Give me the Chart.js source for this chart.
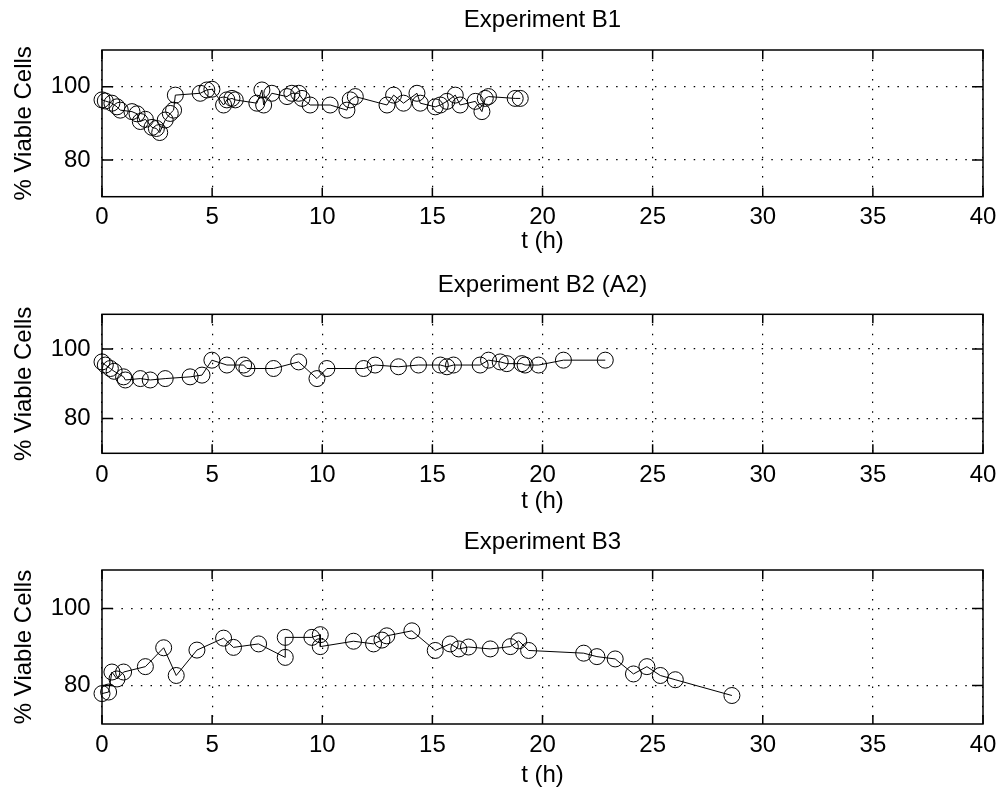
<!DOCTYPE html>
<html lang="en">
<head>
<meta charset="UTF-8">
<title>% Viable Cells - Experiments B1, B2, B3</title>
<script src="https://cdn.jsdelivr.net/npm/chart.js@4"></script>
<style>
  body { margin: 0; background: #fff; }
  #wrap { position: relative; width: 998px; height: 798px; }
  canvas { position: absolute; left: 0; }
</style>
</head>
<body>
<div id="wrap">
  <canvas id="c1" width="998" height="262" style="top:0px"></canvas>
  <canvas id="c2" width="998" height="262" style="top:262px"></canvas>
  <canvas id="c3" width="998" height="274" style="top:524px"></canvas>
</div>
<script>
// data
const titles = ['Experiment B1', 'Experiment B2 (A2)', 'Experiment B3'];
const xLabel = 't (h)';
const yLabel = '% Viable Cells';
const xTicks = [0, 5, 10, 15, 20, 25, 30, 35, 40];
const yTicks = [80, 100];

const b1Time = [0.0, 0.15, 0.45, 0.68, 0.83, 1.36, 1.59, 1.74, 1.97, 2.27, 2.47, 2.62, 2.87, 3.1, 3.25, 3.33,
  4.46, 4.76, 4.99, 5.52, 5.67, 5.9, 6.05, 7.03, 7.26, 7.34, 7.71, 8.4, 8.62, 8.93, 9.08, 9.45, 10.36,
  11.12, 11.27, 11.5, 12.94, 13.24, 13.69, 14.3, 14.45, 15.13, 15.36, 15.66, 16.04, 16.26, 16.95,
  17.25, 17.4, 17.55, 18.76, 18.99];
const b1Viable = [96.4, 96.1, 95.5, 94.5, 93.6, 93.2, 92.6, 90.5, 91.1, 88.9, 88.6, 87.5, 90.9, 92.7, 93.6, 97.7,
  98.2, 99.1, 99.3, 95.0, 96.4, 96.8, 96.4, 95.5, 99.1, 95.0, 98.2, 97.3, 98.2, 98.2, 96.8, 95.0, 95.0,
  93.6, 96.4, 97.3, 95.0, 97.7, 95.5, 98.2, 95.5, 94.5, 95.0, 96.0, 97.7, 95.0, 96.0,
  93.2, 96.8, 97.3, 96.8, 96.8];

const b2Time = [0.0, 0.15, 0.38, 0.55, 0.98, 1.06, 1.74, 2.19, 2.87, 4.0, 4.54, 4.99, 5.67, 6.43, 6.58, 7.79,
  8.93, 9.76, 10.21, 11.88, 12.4, 13.46, 14.37, 15.36, 15.66, 15.96, 17.17, 17.55, 18.08, 18.38,
  19.06, 19.21, 19.82, 20.95, 22.85];
const b2Viable = [96.3, 95.4, 94.4, 93.6, 92.0, 91.1, 91.5, 91.1, 91.5, 92.0, 92.5, 96.8, 95.4, 95.4, 94.4, 94.4,
  96.3, 91.5, 94.4, 94.4, 95.4, 94.9, 95.4, 95.4, 94.9, 95.4, 95.4, 96.8, 96.3, 95.8,
  95.8, 95.4, 95.4, 96.8, 96.8];

const b3Time = [0.0, 0.3, 0.45, 0.68, 0.98, 1.97, 2.8, 3.37, 4.31, 5.52, 5.97, 7.11, 8.32, 8.32, 9.53, 9.91, 9.91,
  11.42, 12.33, 12.71, 12.93, 14.07, 15.13, 15.81, 16.2, 16.64, 17.63, 18.54, 18.92, 19.37,
  21.87, 22.47, 23.3, 24.13, 24.74, 25.35, 26.03, 28.6];
const b3Viable = [77.9, 78.3, 83.5, 81.7, 83.5, 84.9, 89.8, 82.6, 89.2, 92.3, 89.9, 90.8, 87.3, 92.5, 92.5, 93.2, 90.1,
  91.5, 90.8, 91.8, 92.9, 94.2, 89.1, 90.8, 89.5, 90.0, 89.5, 90.1, 91.6, 89.1,
  88.4, 87.5, 86.9, 83.0, 84.9, 82.6, 81.5, 77.4];

Chart.defaults.font.family = "'Liberation Sans', Arial, sans-serif";
Chart.defaults.font.size = 24;
Chart.defaults.color = '#000';

// matlab style box with inward ticks on all four sides
const frame = {
  id: 'frame',
  beforeDatasetsDraw(chart) {
    const { ctx, chartArea: a, scales: { x, y } } = chart;
    ctx.save();
    ctx.strokeStyle = '#000';
    ctx.lineWidth = 1.5;
    ctx.setLineDash([]);
    ctx.strokeRect(a.left, a.top, a.right - a.left, a.bottom - a.top);
    ctx.beginPath();
    x.ticks.forEach(t => {
      const px = x.getPixelForValue(t.value);
      ctx.moveTo(px, a.bottom); ctx.lineTo(px, a.bottom - 9);
      ctx.moveTo(px, a.top); ctx.lineTo(px, a.top + 9);
    });
    y.ticks.forEach(t => {
      const py = y.getPixelForValue(t.value);
      ctx.moveTo(a.left, py); ctx.lineTo(a.left + 11, py);
      ctx.moveTo(a.right, py); ctx.lineTo(a.right - 11, py);
    });
    ctx.stroke();
    ctx.restore();
  }
};

function makePlot(id, title, xs, ys, g) {
  const el = document.getElementById(id);
  const H = el.height;
  const axTop = g.axTop - g.top;
  const axBottom = g.axBottom - g.top;
  const titleY = g.titleY - g.top;
  const lh = 24 * 1.2;

  return new Chart(el, {
    type: 'line',
    data: {
      datasets: [{
        data: xs.map((t, i) => ({ x: t, y: ys[i] })),
        xAxisID: 'x',
        borderColor: '#000',
        borderWidth: 1,
        pointRadius: 8,
        pointBorderWidth: 1,
        pointBorderColor: '#000',
        pointBackgroundColor: 'rgba(0,0,0,0)',
        tension: 0,
        clip: false
      }]
    },
    options: {
      responsive: false,
      animation: false,
      events: [],
      layout: { padding: { left: 0, right: 15, top: 0, bottom: 0 } },
      plugins: {
        legend: { display: false },
        tooltip: { enabled: false },
        title: { display: false }
      },
      scales: {
        // top axis only carries the title so it centres over the plot box
        top: {
          type: 'linear',
          position: 'top',
          min: 0, max: 40,
          afterFit: s => { s.height = axTop; },
          ticks: { display: false },
          grid: { display: false },
          border: { display: false },
          title: {
            display: true, text: title,
            padding: { top: titleY - lh / 2, bottom: 0 }
          }
        },
        x: {
          type: 'linear',
          position: 'bottom',
          min: 0, max: 40,
          afterBuildTicks: s => { s.ticks = xTicks.map(v => ({ value: v })); },
          afterFit: s => { s.height = H - axBottom; },
          ticks: { padding: 0, maxRotation: 0, autoSkip: false },
          grid: {
            color: '#000', lineWidth: 1.2,
            drawTicks: true, tickLength: g.tickY - g.axBottom - lh / 2, tickColor: 'rgba(0,0,0,0)'
          },
          border: { display: false, dash: [1.5, 8.2] },
          title: {
            display: true, text: xLabel,
            padding: { top: 0, bottom: (g.top + H - g.xTitleY) - lh / 2 }
          }
        },
        y: {
          min: 70, max: 110,
          afterBuildTicks: s => { s.ticks = yTicks.map(v => ({ value: v })); },
          afterFit: s => { s.width = 102; },
          ticks: { padding: 11.3 },
          grid: { color: '#000', lineWidth: 1.2, drawTicks: false },
          border: { display: false, dash: [1.5, 8.2] },
          title: { display: true, text: yLabel, padding: { top: 9.6, bottom: 0 } }
        }
      }
    },
    plugins: [frame]
  });
}

makePlot('c1', titles[0], b1Time, b1Viable,
  { top: 0, axTop: 50, axBottom: 196.7, titleY: 20, tickY: 217.5, xTitleY: 241 });
makePlot('c2', titles[1], b2Time, b2Viable,
  { top: 262, axTop: 314.3, axBottom: 453.3, titleY: 285, tickY: 475, xTitleY: 501 });
makePlot('c3', titles[2], b3Time, b3Viable,
  { top: 524, axTop: 570, axBottom: 724, titleY: 542, tickY: 745.5, xTitleY: 775 });
</script>
</body>
</html>
